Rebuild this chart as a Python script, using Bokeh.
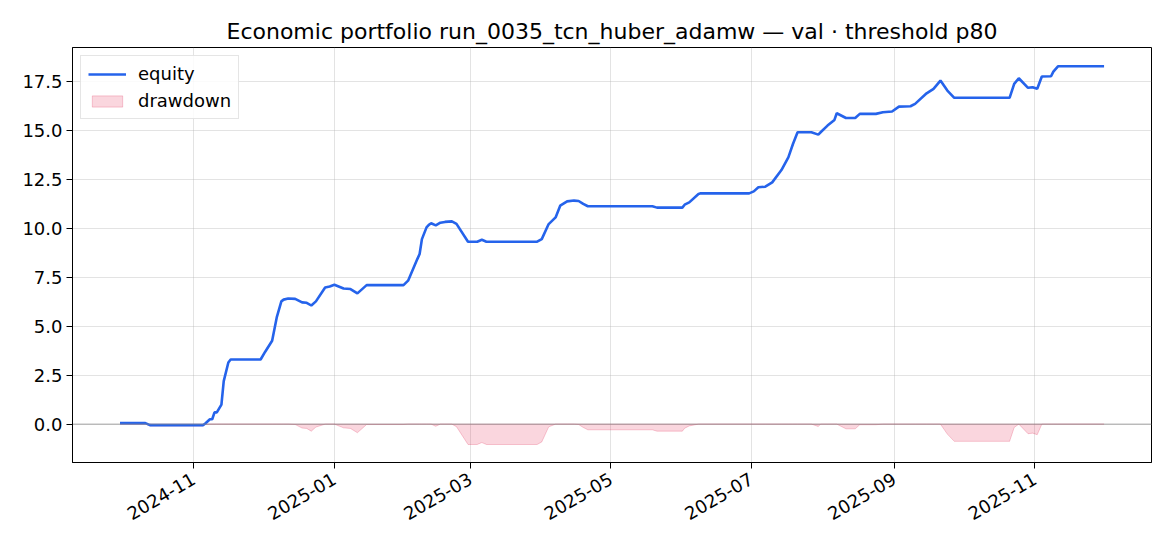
import math
from datetime import datetime
import numpy as np
import pandas as pd
from bokeh.plotting import figure
from bokeh.models import (Range1d, FixedTicker, MonthsTicker, DatetimeTickFormatter,
                          PrintfTickFormatter, Span, Legend, LegendItem)
from bokeh.embed import file_html
from bokeh.resources import INLINE

title_text = "Economic portfolio run_0035_tcn_huber_adamw \u2014 val \u00b7 threshold p80"

dates = [
    "2024-09-30", "2024-10-11", "2024-10-13", "2024-11-05", "2024-11-06", "2024-11-08",
    "2024-11-09", "2024-11-10", "2024-11-11", "2024-11-13", "2024-11-14", "2024-11-16",
    "2024-11-17", "2024-11-30", "2024-12-02", "2024-12-05", "2024-12-07", "2024-12-09",
    "2024-12-10", "2024-12-12", "2024-12-15", "2024-12-18", "2024-12-20", "2024-12-22",
    "2024-12-24", "2024-12-28", "2024-12-30", "2025-01-01", "2025-01-05", "2025-01-08",
    "2025-01-11", "2025-01-15", "2025-01-31", "2025-02-02", "2025-02-06", "2025-02-07",
    "2025-02-08", "2025-02-10", "2025-02-11", "2025-02-12", "2025-02-14", "2025-02-16",
    "2025-02-18", "2025-02-21", "2025-02-23", "2025-02-28", "2025-03-04", "2025-03-06",
    "2025-03-08", "2025-03-30", "2025-04-01", "2025-04-04", "2025-04-07", "2025-04-09",
    "2025-04-12", "2025-04-15", "2025-04-17", "2025-04-19", "2025-04-21", "2025-05-19",
    "2025-05-21", "2025-06-01", "2025-06-02", "2025-06-04", "2025-06-08", "2025-06-09",
    "2025-06-30", "2025-07-02", "2025-07-04", "2025-07-07", "2025-07-10", "2025-07-14",
    "2025-07-17", "2025-07-19", "2025-07-21", "2025-07-27", "2025-07-30", "2025-07-31",
    "2025-08-03", "2025-08-06", "2025-08-07", "2025-08-11", "2025-08-15", "2025-08-17",
    "2025-08-24", "2025-08-27", "2025-08-31", "2025-09-03", "2025-09-08", "2025-09-10",
    "2025-09-15", "2025-09-18", "2025-09-21", "2025-09-24", "2025-09-27", "2025-10-21",
    "2025-10-23", "2025-10-25", "2025-10-29", "2025-10-31", "2025-11-02", "2025-11-04",
    "2025-11-08", "2025-11-09", "2025-11-11", "2025-12-01",
]

equity = [
    0.05, 0.05, -0.05, -0.05, 0.03, 0.25,
    0.25, 0.60, 0.60, 1.00, 2.20, 3.15,
    3.30, 3.30, 3.70, 4.26, 5.45, 6.27,
    6.36, 6.42, 6.40, 6.22, 6.20, 6.06,
    6.27, 6.98, 7.03, 7.12, 6.93, 6.90,
    6.68, 7.10, 7.10, 7.33, 8.43, 8.69,
    9.45, 10.05, 10.18, 10.26, 10.15, 10.29,
    10.33, 10.36, 10.23, 9.32, 9.32, 9.42,
    9.32, 9.32, 9.45, 10.22, 10.56, 11.16,
    11.38, 11.42, 11.40, 11.25, 11.13, 11.13,
    11.06, 11.06, 11.21, 11.33, 11.76, 11.79,
    11.79, 11.89, 12.10, 12.13, 12.35, 12.98,
    13.63, 14.31, 14.91, 14.91, 14.79, 14.91,
    15.25, 15.54, 15.88, 15.64, 15.64, 15.85,
    15.85, 15.93, 15.97, 16.22, 16.24, 16.36,
    16.90, 17.13, 17.55, 17.04, 16.67, 16.67,
    17.38, 17.67, 17.18, 17.21, 17.13, 17.76,
    17.77, 18.01, 18.28, 18.28,
]

drawdown = [
    0.00, 0.00, -0.10, -0.10, -0.02, 0.00,
    0.00, 0.00, 0.00, 0.00, 0.00, 0.00,
    0.00, 0.00, 0.00, 0.00, 0.00, 0.00,
    0.00, 0.00, -0.02, -0.20, -0.22, -0.36,
    -0.15, 0.00, 0.00, 0.00, -0.19, -0.22,
    -0.44, -0.02, -0.02, 0.00, 0.00, 0.00,
    0.00, 0.00, 0.00, 0.00, -0.11, 0.00,
    0.00, 0.00, -0.13, -1.04, -1.04, -0.94,
    -1.04, -1.04, -0.91, -0.14, 0.00, 0.00,
    0.00, 0.00, -0.02, -0.17, -0.29, -0.29,
    -0.36, -0.36, -0.21, -0.09, 0.00, 0.00,
    0.00, 0.00, 0.00, 0.00, 0.00, 0.00,
    0.00, 0.00, 0.00, 0.00, -0.12, 0.00,
    0.00, 0.00, 0.00, -0.24, -0.24, -0.03,
    -0.03, 0.00, 0.00, 0.00, 0.00, 0.00,
    0.00, 0.00, 0.00, -0.51, -0.88, -0.88,
    -0.17, 0.00, -0.49, -0.46, -0.54, 0.00,
    0.00, 0.00, 0.00, 0.00,
]

y_ticks = [0.0, 2.5, 5.0, 7.5, 10.0, 12.5, 15.0, 17.5]
x_tick_months = [0, 2, 4, 6, 8, 10]

FONT = "DejaVu Sans"
BLUE = "#2563eb"
PINK = "#e11d48"

x = pd.to_datetime(dates).values

p = figure(
    width=1154, height=530,
    x_axis_type="datetime",
    output_backend="svg", toolbar_location=None,
    x_range=Range1d(datetime(2024, 9, 9, 9), datetime(2025, 12, 21, 14)),
    y_range=Range1d(-1.96, 19.24),
    min_border_left=72, min_border_right=3, min_border_top=47, min_border_bottom=68,
)
p.background_fill_color = "white"
p.border_fill_color = "white"
p.outline_line_color = "black"
p.outline_line_width = 1
p.outline_line_alpha = 1.0

p.title.text = title_text
p.title.align = "center"
p.title.text_font = FONT
p.title.text_font_size = "22px"
p.title.text_font_style = "normal"
p.title.text_color = "black"
p.title.standoff = 8

# drawdown area
xs = np.concatenate([x, x[::-1]])
ys = np.concatenate([np.array(drawdown), np.zeros(len(drawdown))])
dd_r = p.patch(xs, ys, fill_color=PINK, fill_alpha=0.18,
               line_color=PINK, line_alpha=0.22, line_width=1)

zero = Span(location=0, dimension="width", line_color="#888888",
            line_alpha=0.7, line_width=1, level="glyph")
p.add_layout(zero)

eq_r = p.line(x, equity, line_color=BLUE, line_width=2.6)

# axes
p.xaxis.ticker = MonthsTicker(months=x_tick_months)
p.xgrid.ticker = MonthsTicker(months=x_tick_months)
p.xaxis.formatter = DatetimeTickFormatter(months="%Y-%m", days="%Y-%m", years="%Y-%m")
p.xaxis.major_label_orientation = math.pi / 6
p.yaxis.ticker = FixedTicker(ticks=y_ticks)
p.yaxis.formatter = PrintfTickFormatter(format="%.1f")

for ax in (p.xaxis, p.yaxis):
    ax.axis_line_color = "black"
    ax.major_tick_line_color = "black"
    ax.major_tick_out = 6
    ax.major_tick_in = 0
    ax.minor_tick_line_color = None
    ax.major_label_text_font = FONT
    ax.major_label_text_font_size = "18px"
    ax.major_label_text_color = "black"
    ax.major_label_standoff = 4
p.xaxis.major_label_standoff = 9

for g in (p.xgrid, p.ygrid):
    g.grid_line_color = "#b0b0b0"
    g.grid_line_alpha = 0.35
    g.grid_line_width = 1

legend = Legend(
    items=[LegendItem(label="equity", renderers=[eq_r]),
           LegendItem(label="drawdown", renderers=[dd_r])],
    location="top_left",
    label_text_font=FONT, label_text_font_size="18px", label_text_color="black",
    glyph_width=38, glyph_height=14, label_standoff=12,
    spacing=6, padding=7, margin=8,
    border_line_color="#cccccc", border_line_width=1,
    background_fill_color="white", background_fill_alpha=0.85,
)
p.add_layout(legend)

open("out.html", "w").write(file_html(p, INLINE))
